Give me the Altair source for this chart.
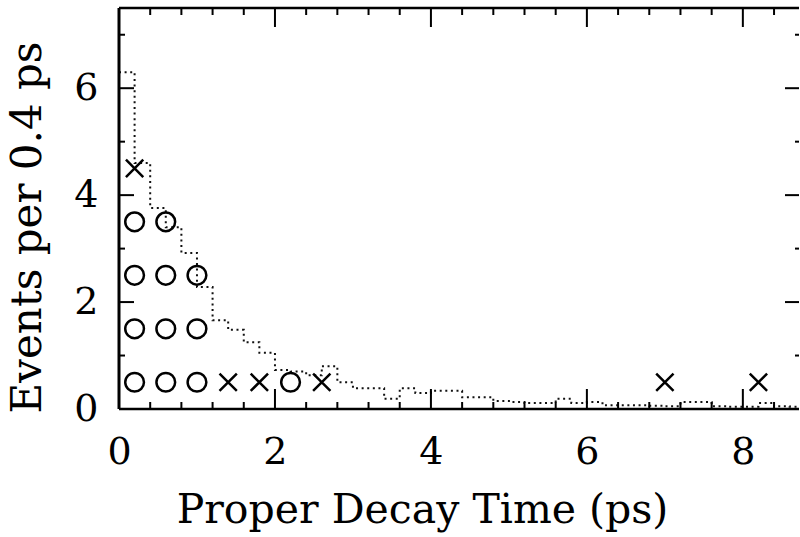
import altair as alt
import pandas as pd

# Expected decay-time distribution, events per 0.4 ps, in 0.2 ps bins from 0 ps
BIN_WIDTH = 0.2
expected = [6.3, 4.6, 3.76, 3.4, 2.92, 2.28, 1.66, 1.48, 1.25, 1.05,
            0.73, 0.7, 0.63, 0.8, 0.5, 0.39, 0.39, 0.19, 0.39, 0.3,
            0.34, 0.34, 0.22, 0.22, 0.15, 0.13, 0.11, 0.11, 0.19, 0.11,
            0.13, 0.07, 0.07, 0.07, 0.06, 0.05, 0.13, 0.13, 0.05, 0.04,
            0.04, 0.11, 0.05, 0.04]

# Observed events, one symbol per event, stacked in 0.4 ps bins
circle_t = [0.2, 0.2, 0.2, 0.2, 0.6, 0.6, 0.6, 0.6, 1.0, 1.0, 1.0, 2.2]
circle_n = [0.5, 1.5, 2.5, 3.5, 0.5, 1.5, 2.5, 3.5, 0.5, 1.5, 2.5, 0.5]
cross_t = [0.2, 1.4, 1.8, 2.6, 7.0, 8.2]
cross_n = [4.5, 0.5, 0.5, 0.5, 0.5, 0.5]

# Axis labels and tick marks
x_labels = [0, 2, 4, 6, 8]
y_labels = [0, 2, 4, 6]
x_major = [2, 4, 6, 8]
x_minor = [0.4, 0.8, 1.2, 1.6, 2.4, 2.8, 3.2, 3.6, 4.4, 4.8, 5.2, 5.6,
           6.4, 6.8, 7.2, 7.6, 8.4]
y_major = [2, 4, 6]
y_minor = [1, 3, 5, 7]

W, H = 680, 401
FONT = "DejaVu Serif"

xs = alt.Scale(domain=[0, 8.72], nice=False, zero=False)
ys = alt.Scale(domain=[0, 7.5], nice=False, zero=False)

X_AX = alt.Axis(values=x_labels, title="Proper Decay Time (ps)", labelPadding=24,
                labelFlush=False, titleX=303, titleY=113, titleBaseline="alphabetic",
                titleAlign="center", titleFontSize=41, format="d")
Y_AX = alt.Axis(values=y_labels, title="Events per 0.4 ps", labelPadding=21,
                titleX=-79, titleY=219, titleAngle=270, titleBaseline="alphabetic",
                titleAlign="center", titleFontSize=42, format="d")

X = lambda: alt.X("t:Q", scale=xs, axis=X_AX)
Y = lambda: alt.Y("n:Q", scale=ys, axis=Y_AX)

# step histogram: each bin's left edge, plus the closing right edge
edges = [round(i * BIN_WIDTH, 2) for i in range(len(expected) + 1)]
hist_df = pd.DataFrame({"t": edges, "n": expected + [expected[-1]]})
hist = alt.Chart(hist_df).mark_line(
    interpolate="step-after", strokeDash=[2, 3.6], strokeWidth=2,
    color="#111111", clip=True
).encode(x=X(), y=Y())

circles = alt.Chart(pd.DataFrame({"t": circle_t, "n": circle_n})).mark_point(
    shape="circle", filled=False, size=350, strokeWidth=2.5, color="black", opacity=1
).encode(x=X(), y=Y())

crosses = alt.Chart(pd.DataFrame({"t": cross_t, "n": cross_n})).mark_point(
    shape="M-1,-1L1,1M-1,1L1,-1", filled=False, size=300, strokeWidth=2.5,
    color="black", opacity=1
).encode(x=X(), y=Y())


def x_ticks(values, length, side):
    base = alt.Chart(pd.DataFrame({"t": values})).mark_rule(color="black", strokeWidth=2)
    if side == "bottom":
        return base.encode(x=X(), y=alt.value(H), y2=alt.value(H - length))
    return base.encode(x=X(), y=alt.value(0), y2=alt.value(length))


def y_ticks(values, length, side):
    base = alt.Chart(pd.DataFrame({"n": values})).mark_rule(color="black", strokeWidth=2)
    if side == "left":
        return base.encode(y=Y(), x=alt.value(0), x2=alt.value(length))
    return base.encode(y=Y(), x=alt.value(W), x2=alt.value(W - length))


one = pd.DataFrame({"k": [0]})
frame_top = alt.Chart(one).mark_rule(color="black", strokeWidth=2.5).encode(
    x=alt.value(0), x2=alt.value(W), y=alt.value(0))
frame_bottom = alt.Chart(one).mark_rule(color="black", strokeWidth=2.5).encode(
    x=alt.value(0), x2=alt.value(W), y=alt.value(H))
frame_left = alt.Chart(one).mark_rule(color="black", strokeWidth=3).encode(
    x=alt.value(0), y=alt.value(0), y2=alt.value(H))

chart = alt.layer(
    hist,
    x_ticks(x_major, 20, "bottom"), x_ticks(x_minor, 7, "bottom"),
    x_ticks(x_major, 19, "top"), x_ticks(x_minor, 7, "top"),
    y_ticks(y_major, 15, "left"), y_ticks(y_minor, 6, "left"),
    y_ticks(y_major, 14, "right"), y_ticks(y_minor, 4, "right"),
    frame_top, frame_bottom, frame_left,
    circles, crosses,
).properties(
    width=W, height=H,
    autosize=alt.AutoSizeParams(type="none"),
    padding={"left": 119, "top": 8, "right": 1, "bottom": 128},
    background="white",
).configure_view(
    stroke=None
).configure_axis(
    grid=False, domain=False, ticks=False, tickSize=0,
    labelFont=FONT, labelFontSize=38, labelColor="black",
    titleFont=FONT, titleColor="black", titleFontWeight="normal",
)

chart.save("out.html", embed_options={"renderer": "svg", "actions": False})
